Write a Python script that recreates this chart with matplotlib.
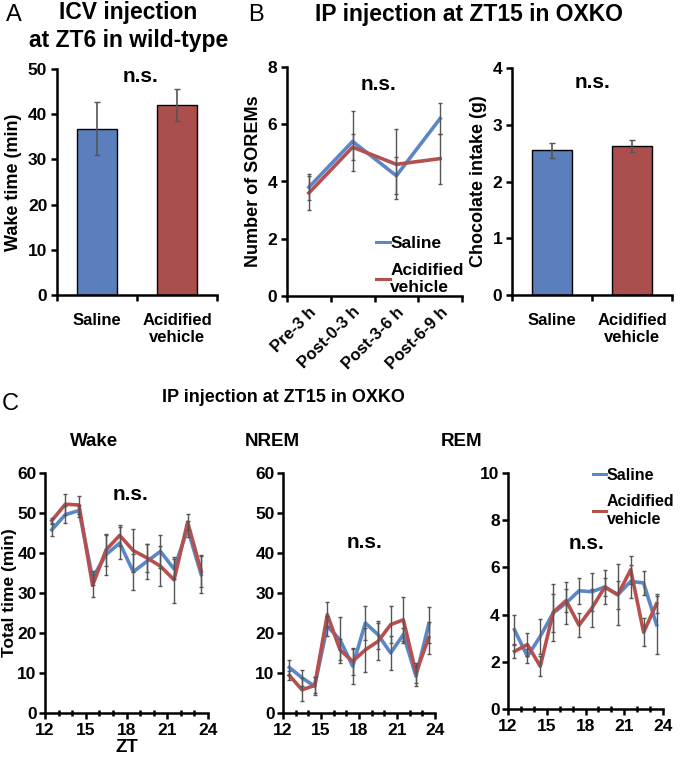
import numpy as np
import matplotlib
matplotlib.use('Agg')
import matplotlib.pyplot as plt

plt.rcParams['font.family'] = ['Liberation Sans', 'DejaVu Sans']
plt.rcParams['font.weight'] = 'bold'
plt.rcParams['axes.labelweight'] = 'bold'

# Panel A - ICV injection, wake time
a_groups = ['Saline', 'Acidified\nvehicle']
a_mean = [36.8, 42.0]
a_err = [5.9, 3.6]

# Panel B - SOREMs and chocolate intake
b_periods = ['Pre-3 h', 'Post-0-3 h', 'Post-3-6 h', 'Post-6-9 h']
sorem_saline = [3.8, 5.4, 4.2, 6.2]
sorem_saline_err = [0.45, 1.05, 0.65, 0.55]
sorem_acid = [3.6, 5.2, 4.6, 4.8]
sorem_acid_err = [0.6, 0.45, 1.22, 0.87]
choc_mean = [2.55, 2.63]
choc_err = [0.13, 0.11]

# Panel C - hourly sleep/wake
zt = [12.5, 13.5, 14.5, 15.5, 16.5, 17.5, 18.5, 19.5, 20.5, 21.5, 22.5, 23.5]
wake_saline = [45.8, 49.6, 50.6, 33.8, 39.6, 42.5, 35.3, 37.9, 40.4, 36.0, 46.0, 34.6]
wake_saline_err = [1.5, 2.1, 1.5, 1.8, 5.0, 4.0, 4.5, 4.3, 4.2, 2.5, 2.0, 4.6]
wake_acid = [48.1, 52.2, 52.0, 31.9, 40.8, 44.4, 40.6, 38.8, 36.7, 33.3, 47.7, 35.4]
wake_acid_err = [0.7, 2.6, 2.2, 2.9, 4.0, 2.7, 5.3, 3.5, 5.0, 5.8, 2.0, 4.0]
nrem_saline = [11.4, 8.8, 6.7, 21.7, 18.3, 11.7, 22.5, 19.6, 15.0, 19.6, 9.2, 22.1]
nrem_saline_err = [1.9, 2.0, 2.3, 2.5, 5.7, 4.4, 4.2, 3.5, 4.2, 1.7, 2.5, 4.5]
nrem_acid = [9.4, 5.8, 6.9, 24.6, 15.8, 12.9, 15.8, 17.9, 22.1, 23.3, 10.0, 18.8]
nrem_acid_err = [1.2, 2.9, 2.0, 3.1, 2.6, 3.4, 5.5, 4.6, 4.6, 5.8, 2.5, 4.0]
rem_saline = [3.36, 2.23, 3.08, 4.07, 4.49, 5.01, 4.97, 5.17, 4.84, 5.41, 5.34, 3.57]
rem_saline_err = [0.64, 0.3, 0.75, 0.8, 0.9, 0.55, 0.8, 0.7, 0.6, 0.7, 0.5, 1.23]
rem_acid = [2.44, 2.73, 1.81, 4.1, 4.59, 3.55, 4.28, 5.17, 4.84, 5.9, 3.25, 4.46]
rem_acid_err = [0.3, 0.5, 0.43, 1.2, 0.5, 0.5, 0.8, 0.4, 1.3, 0.6, 0.6, 0.4]

BLUE_BAR = '#5B7EBC'
RED_BAR = '#AA4F4D'
BLUE = '#5B87C8'
RED = '#B5504F'
ERR = '#555555'
TICK_FS = 12.5
LAB_FS = 13
NS_FS = 15

W, H = 680, 758
fig = plt.figure(figsize=(W / 100, H / 100), dpi=100)


def px_axes(x0, y0, x1, y1):
    return fig.add_axes([x0 / W, 1 - y1 / H, (x1 - x0) / W, (y1 - y0) / H])


def ftext(x, y, s, **kw):
    fig.text(x / W, 1 - y / H, s, ha='center', va='center', **kw)


def style(ax):
    for s in ['top', 'right']:
        ax.spines[s].set_visible(False)
    for s in ['left', 'bottom']:
        ax.spines[s].set_linewidth(1.8)
    ax.tick_params(direction='out', width=1.8, length=4, labelsize=TICK_FS, pad=3)
    for lab in ax.get_yticklabels():
        lab.set_fontweight('bold')


def bar_panel(ax, means, errs, ymax, ystep, ylabel):
    x = np.arange(len(means)) + 0.5
    ax.bar(x, means, width=0.5, color=[BLUE_BAR, RED_BAR], edgecolor='black', linewidth=1.0)
    ax.errorbar(x, means, yerr=errs, fmt='none', ecolor=ERR, elinewidth=1.2, capsize=2)
    ax.set_xlim(0, len(means))
    ax.set_ylim(0, ymax)
    ax.set_yticks(np.arange(0, ymax + 0.001, ystep))
    ax.set_xticks(np.arange(0, len(means) + 1))
    ax.set_xticklabels([])
    ax.set_xticks(x, minor=True)
    ax.set_xticklabels(a_groups, minor=True, fontsize=12, fontweight='bold')
    style(ax)
    ax.tick_params(axis='x', which='minor', length=0, pad=13)
    ax.set_ylabel(ylabel, fontsize=LAB_FS)


def legend_at(ax, x, y, size=12.5):
    leg = ax.legend(loc='upper left', bbox_to_anchor=(x / W, 1 - y / H), bbox_transform=fig.transFigure,
                    frameon=False, handlelength=0.8, handletextpad=0.05, labelspacing=0.7, borderpad=0,
                    prop={'size': size, 'weight': 'bold'})
    for line in leg.get_lines():
        line.set_linewidth(2.2)


# ---- Panel A
axA = px_axes(57, 69, 217, 295)
bar_panel(axA, a_mean, a_err, 50, 10, 'Wake time (min)')
axA.text(1.05, 48.3, 'n.s.', ha='center', va='center', fontsize=NS_FS, fontweight='bold')

# ---- Panel B left: SOREMs
axB1 = px_axes(287, 67, 462, 296)
xb = np.arange(len(b_periods)) + 0.5
axB1.plot(xb, sorem_saline, color=BLUE, lw=2.6, label='Saline', zorder=3)
axB1.plot(xb, sorem_acid, color=RED, lw=2.6, label='Acidified\nvehicle', zorder=3)
axB1.errorbar(xb, sorem_saline, yerr=sorem_saline_err, fmt='none', ecolor=ERR, elinewidth=1, capsize=1.5, zorder=4)
axB1.errorbar(xb, sorem_acid, yerr=sorem_acid_err, fmt='none', ecolor=ERR, elinewidth=1, capsize=1.5, zorder=4)
axB1.set_xlim(0, 4)
axB1.set_ylim(0, 8)
axB1.set_yticks([0, 2, 4, 6, 8])
axB1.set_xticks(np.arange(0, 5))
axB1.set_xticklabels([])
axB1.set_xticks(xb, minor=True)
axB1.set_xticklabels(b_periods, minor=True, rotation=45, ha='right', rotation_mode='anchor',
                     fontsize=12, fontweight='bold')
style(axB1)
axB1.tick_params(axis='x', which='minor', length=0, pad=6)
axB1.set_ylabel('Number of SOREMs', fontsize=LAB_FS)
axB1.text(2.1, 7.4, 'n.s.', ha='center', va='center', fontsize=NS_FS, fontweight='bold')
legend_at(axB1, 367, 227)

# ---- Panel B right: chocolate intake
axB2 = px_axes(512, 68, 672, 295)
bar_panel(axB2, choc_mean, choc_err, 4, 1, 'Chocolate intake (g)')
axB2.text(1.0, 3.75, 'n.s.', ha='center', va='center', fontsize=NS_FS, fontweight='bold')


# ---- Panel C
def time_panel(ax, s, se, a, ae, ymax, ystep):
    ax.plot(zt, s, color=BLUE, lw=2.6, zorder=3, label='Saline')
    ax.plot(zt, a, color=RED, lw=2.6, zorder=3, label='Acidified\nvehicle')
    ax.errorbar(zt, s, yerr=se, fmt='none', ecolor=ERR, elinewidth=1, capsize=1.5, zorder=4)
    ax.errorbar(zt, a, yerr=ae, fmt='none', ecolor=ERR, elinewidth=1, capsize=1.5, zorder=4)
    ax.set_xlim(12, 24)
    ax.set_ylim(0, ymax)
    ax.set_yticks(np.arange(0, ymax + 0.001, ystep))
    ax.set_xticks([12, 15, 18, 21, 24])
    ax.set_xticks(np.arange(12, 25), minor=True)
    style(ax)
    ax.tick_params(axis='y', pad=2)
    ax.tick_params(axis='x', which='minor', direction='inout', length=4, width=1.8)
    for lab in ax.get_xticklabels():
        lab.set_fontweight('bold')


axW = px_axes(45, 473, 208, 713)
time_panel(axW, wake_saline, wake_saline_err, wake_acid, wake_acid_err, 60, 10)
axW.set_ylabel('Total time (min)', fontsize=12.5, labelpad=0)
axW.set_xlabel('ZT', fontsize=13.5, labelpad=1)
axW.text(18.3, 54.5, 'n.s.', ha='center', va='center', fontsize=NS_FS, fontweight='bold')

axN = px_axes(283, 473, 435, 713)
time_panel(axN, nrem_saline, nrem_saline_err, nrem_acid, nrem_acid_err, 60, 10)
axN.text(18.4, 42.5, 'n.s.', ha='center', va='center', fontsize=NS_FS, fontweight='bold')

axR = px_axes(508, 473, 663, 709)
time_panel(axR, rem_saline, rem_saline_err, rem_acid, rem_acid_err, 10, 2)
axR.text(18.1, 7.0, 'n.s.', ha='center', va='center', fontsize=NS_FS, fontweight='bold')
legend_at(axR, 585, 460, size=11.5)

# ---- titles and panel letters
ftext(14, 15, 'A', fontsize=17, fontweight='normal')
ftext(128, 13, 'ICV injection', fontsize=16.5, fontweight='bold')
ftext(129, 40, 'at ZT6 in wild-type', fontsize=16.5, fontweight='bold')
ftext(256, 15, 'B', fontsize=17, fontweight='normal')
ftext(469, 14, 'IP injection at ZT15 in OXKO', fontsize=16.5, fontweight='bold')
ftext(10, 404, 'C', fontsize=17, fontweight='normal')
ftext(283, 397, 'IP injection at ZT15 in OXKO', fontsize=13, fontweight='bold')
ftext(94, 441, 'Wake', fontsize=13.5, fontweight='bold')
ftext(272, 441, 'NREM', fontsize=13.5, fontweight='bold')
ftext(462, 441, 'REM', fontsize=13.5, fontweight='bold')

fig.savefig('out.png', dpi=100)
